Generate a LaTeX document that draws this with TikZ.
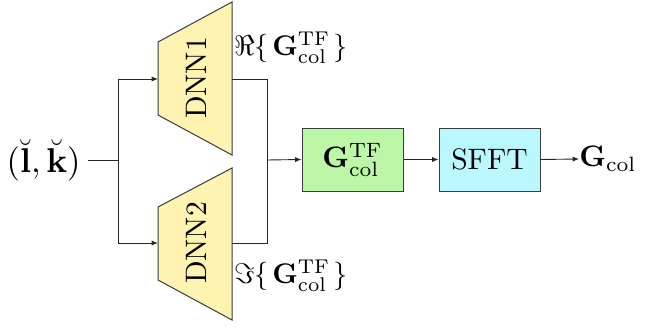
\documentclass[tikz,border=0pt]{standalone}
\usepackage{amsmath,amssymb,graphicx}
\usetikzlibrary{arrows.meta,calc}
\definecolor{dnnfill}{RGB}{255,243,178}
\definecolor{tffill}{RGB}{187,247,166}
\definecolor{sfftfill}{RGB}{187,247,255}
\definecolor{edge}{RGB}{60,60,60}
% text is set at 10pt and magnified, so the glyphs keep the 10pt design
\newcommand{\bigtext}[2]{\scalebox{#1}{#2}}
\newcommand{\gtf}{\mathbf{G}_{\mathrm{col}}^{\mathrm{TF}}}
\tikzset{
  link/.style={draw=black!85,line width=0.45pt},
  arrowlink/.style={link,-{Latex[length=3.2pt,width=2.6pt]}},
  dnnshape/.style={draw=edge,fill=dnnfill,line width=0.5pt},
  dnnlabel/.style={rotate=90,inner sep=0pt},
  blockbox/.style={draw=edge,line width=0.5pt,minimum width=50.5pt,minimum height=31.5pt,inner sep=0pt},
  plain/.style={inner sep=0pt}
}
\begin{document}
\begin{tikzpicture}[x=0.5pt,y=-0.5pt]
\useasboundingbox (0,0) rectangle (652,326);

% input
\node[plain,anchor=east] (in) at (81,160) {\bigtext{1.72}{$(\breve{\mathbf{l}},\breve{\mathbf{k}})$}};
\coordinate (split) at (118,160);
\coordinate (inend) at (88,160);

% the two networks, drawn as trapezoids
\draw[dnnshape] (158,42) -- (232,2) -- (232,155) -- (158,115) -- cycle;
\draw[dnnshape] (158,207) -- (232,168) -- (232,320) -- (158,280) -- cycle;
\node[dnnlabel] (dnn1) at (196,78) {\bigtext{1.48}{DNN1}};
\node[dnnlabel] (dnn2) at (196,243) {\bigtext{1.48}{DNN2}};
\coordinate (dnn1in) at (158,79);
\coordinate (dnn2in) at (158,243);
\coordinate (dnn1out) at (232,79);
\coordinate (dnn2out) at (232,243);
\coordinate (merge) at (267,160);

% real and imaginary parts
\node[plain,anchor=west] (re) at (234,48) {\bigtext{1.42}{$\Re\{\mkern2mu\gtf\mkern2mu\}$}};
\node[plain,anchor=west] (im) at (234,276) {\bigtext{1.42}{$\Im\{\mkern2mu\gtf\mkern2mu\}$}};

% processing blocks
\node[blockbox,fill=tffill] (tf) at (352.5,159.5) {\bigtext{1.48}{$\gtf$}};
\node[blockbox,fill=sfftfill] (sfft) at (489.5,159.5) {\bigtext{1.48}{SFFT}};
\node[plain,anchor=west] (out) at (579,159) {\bigtext{1.48}{$\mathbf{G}_{\mathrm{col}}$}};

% connectors
\draw[link] (inend) -- (split);
\draw[arrowlink] (split) |- (dnn1in);
\draw[arrowlink] (split) |- (dnn2in);
\draw[link] (dnn1out) -| (merge);
\draw[link] (dnn2out) -| (merge);
\draw[arrowlink] (merge) -- (tf.west);
\draw[arrowlink] (tf.east) -- (sfft.west);
\draw[arrowlink] (sfft.east) -- (out.west);
\end{tikzpicture}
\end{document}
